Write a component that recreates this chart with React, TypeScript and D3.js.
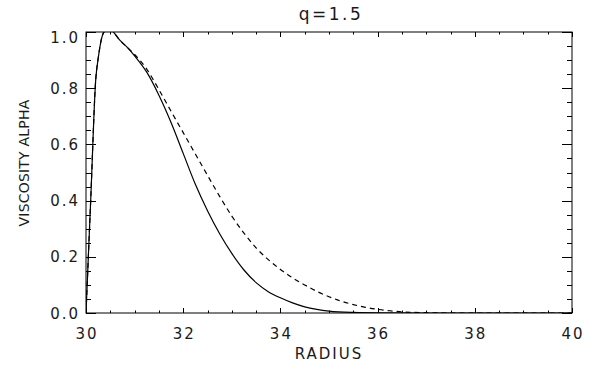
import { useEffect, useRef } from "react";
import * as d3 from "d3";

// Values (radius vs viscosity alpha).
const radiusSolid = [30.0, 30.1, 30.2, 30.25, 30.37, 30.48, 30.7, 30.85, 31.0, 31.25, 31.5, 31.75, 32.0, 32.25, 32.5, 32.75, 33.0, 33.25, 33.5, 33.75, 34.0, 34.25, 34.5, 34.75, 35.0, 35.5, 36.0, 37.0, 38.0, 40.0];
const alphaSolid = [0.0, 0.415, 0.83, 0.905, 1.0, 1.01, 0.97, 0.945, 0.915, 0.857, 0.775, 0.678, 0.568, 0.458, 0.364, 0.282, 0.212, 0.153, 0.108, 0.076, 0.054, 0.036, 0.022, 0.013, 0.007, 0.002, 0.0005, 0.0, 0.0, 0.0];

const radiusDashed = [30.0, 30.1, 30.2, 30.25, 30.37, 30.48, 30.7, 30.85, 31.0, 31.25, 31.5, 31.75, 32.0, 32.25, 32.5, 32.75, 33.0, 33.25, 33.5, 33.75, 34.0, 34.25, 34.5, 34.75, 35.0, 35.25, 35.5, 35.75, 36.0, 36.25, 36.5, 37.0, 37.5, 40.0];
const alphaDashed = [0.0, 0.415, 0.83, 0.905, 1.0, 1.01, 0.97, 0.945, 0.92, 0.868, 0.795, 0.718, 0.642, 0.566, 0.49, 0.415, 0.345, 0.284, 0.232, 0.19, 0.155, 0.125, 0.1, 0.077, 0.058, 0.042, 0.03, 0.02, 0.013, 0.008, 0.004, 0.001, 0.0, 0.0];

const xTicks = [30, 32, 34, 36, 38, 40];
const yTicks = [0.0, 0.2, 0.4, 0.6, 0.8, 1.0];
const xMinorStep = 0.5;
const yMinorStep = 0.05;

const TITLE = "q=1.5";
const X_LABEL = "RADIUS";
const Y_LABEL = "VISCOSITY ALPHA";

const WIDTH = 593;
const HEIGHT = 366;
const PAD = { left: 86, right: 21, top: 32, bottom: 53 };
const FONT = "'DejaVu Sans', sans-serif";
const INK = "#1a1a1a";

export default function App() {
  const svgRef = useRef<SVGSVGElement | null>(null);

  useEffect(() => {
    const svgEl = svgRef.current;
    if (!svgEl) return;
    const svg = d3.select(svgEl);
    svg.selectAll("*").remove();

    const x = d3.scaleLinear().domain([30, 40]).range([PAD.left, WIDTH - PAD.right]);
    const y = d3.scaleLinear().domain([0, 1]).range([HEIGHT - PAD.bottom, PAD.top]);
    const [x0, x1] = x.range();
    const [yb, yt] = y.range();

    svg
      .append("clipPath")
      .attr("id", "plot-clip")
      .append("rect")
      .attr("x", x0)
      .attr("y", yt)
      .attr("width", x1 - x0)
      .attr("height", yb - yt);

    // Curves.
    const line = d3
      .line<[number, number]>()
      .x((d) => x(d[0]))
      .y((d) => y(d[1]))
      .curve(d3.curveMonotoneX);

    const gLines = svg.append("g").attr("clip-path", "url(#plot-clip)");
    gLines
      .append("path")
      .attr("d", line(radiusSolid.map((r, i) => [r, alphaSolid[i]])))
      .attr("fill", "none")
      .attr("stroke", "#000")
      .attr("stroke-width", 1.2);
    gLines
      .append("path")
      .attr("d", line(radiusDashed.map((r, i) => [r, alphaDashed[i]])))
      .attr("fill", "none")
      .attr("stroke", "#000")
      .attr("stroke-width", 1.2)
      .attr("stroke-dasharray", "5 4");

    // Box + inward ticks on all four sides.
    const gAxes = svg.append("g").attr("stroke", "#000").attr("stroke-width", 1);
    gAxes
      .append("rect")
      .attr("x", x0)
      .attr("y", yt)
      .attr("width", x1 - x0)
      .attr("height", yb - yt)
      .attr("fill", "none");

    const xMinor = d3.range(30, 40 + 1e-9, xMinorStep);
    const yMinor = d3.range(0, 1 + 1e-9, yMinorStep);
    const isMajor = (v: number, majors: number[]) => majors.some((m) => Math.abs(m - v) < 1e-6);

    xMinor.forEach((v) => {
      const len = isMajor(v, xTicks) ? 5 : 2.5;
      const px = Math.round(x(v)) + 0.5;
      gAxes.append("line").attr("x1", px).attr("x2", px).attr("y1", yb).attr("y2", yb - len);
      gAxes.append("line").attr("x1", px).attr("x2", px).attr("y1", yt).attr("y2", yt + len);
    });
    yMinor.forEach((v) => {
      const len = isMajor(v, yTicks) ? 10 : 5;
      const py = Math.round(y(v)) + 0.5;
      gAxes.append("line").attr("x1", x0).attr("x2", x0 + len).attr("y1", py).attr("y2", py);
      gAxes.append("line").attr("x1", x1).attr("x2", x1 - len).attr("y1", py).attr("y2", py);
    });

    // Tick labels.
    const text = (sel: d3.Selection<SVGTextElement, unknown, null, undefined>) =>
      sel.attr("font-family", FONT).attr("font-size", "15px").attr("fill", INK).attr("letter-spacing", "2px");

    xTicks.forEach((t) => {
      svg
        .append("text")
        .call(text)
        .attr("x", x(t) + 1)
        .attr("y", yb + 26)
        .attr("text-anchor", "middle")
        .text(d3.format(".0f")(t));
    });
    yTicks.forEach((t) => {
      svg
        .append("text")
        .call(text)
        .attr("x", x0 - 6)
        .attr("y", Math.max(y(t), yt + 5.5) + 5.5)
        .attr("text-anchor", "end")
        .text(d3.format(".1f")(t));
    });

    // Title and axis titles.
    svg
      .append("text")
      .call(text)
      .attr("font-size", "17px")
      .attr("letter-spacing", "2.5px")
      .attr("x", (x0 + x1) / 2 + 2)
      .attr("y", 20)
      .attr("text-anchor", "middle")
      .text(TITLE);
    svg
      .append("text")
      .call(text)
      .attr("x", (x0 + x1) / 2)
      .attr("y", 359)
      .attr("text-anchor", "middle")
      .text(X_LABEL);
    svg
      .append("text")
      .call(text)
      .attr("font-size", "14px")
      .attr("letter-spacing", "0.2px")
      .attr("transform", `translate(29, 163) rotate(-90)`)
      .attr("text-anchor", "middle")
      .text(Y_LABEL);
  }, []);

  return (
    <svg
      ref={svgRef}
      width={WIDTH}
      height={HEIGHT}
      viewBox={`0 0 ${WIDTH} ${HEIGHT}`}
      style={{ position: "absolute", left: 0, top: 0, background: "#fff", display: "block" }}
      role="img"
      aria-label={TITLE}
    />
  );
}
